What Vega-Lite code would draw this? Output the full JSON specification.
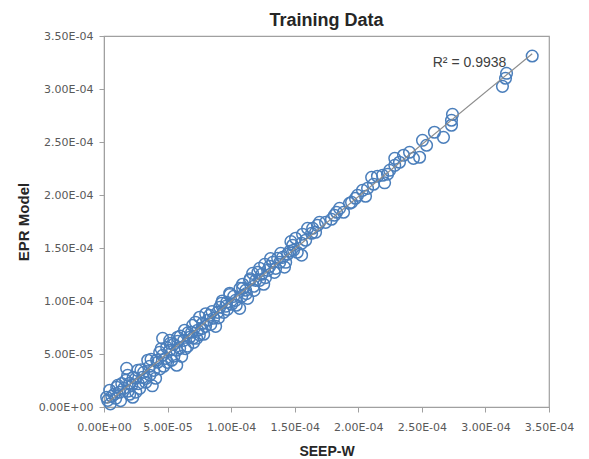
{
  "$schema": "https://vega.github.io/schema/vega-lite/v6.json",
  "autosize": "none",
  "width": 445,
  "height": 371,
  "padding": {"left": 104, "top": 36, "right": 40, "bottom": 52},
  "background": "white",
  "config": {
    "view": {"stroke": "#a0a0a0", "strokeWidth": 1.2},
    "axis": {
      "grid": false,
      "domainColor": "#a0a0a0",
      "tickColor": "#a0a0a0",
      "tickSize": 5,
      "labelFlush": false,
      "labelOverlap": false,
      "labelFont": "DejaVu Sans",
      "labelFontSize": 11,
      "labelColor": "#595959",
      "titleFont": "Liberation Sans",
      "titleFontWeight": "bold",
      "titleColor": "#262626"
    },
    "title": {"font": "Liberation Sans", "fontSize": 18, "fontWeight": "bold", "color": "#262626"}
  },
  "title": {"text": "Training Data", "anchor": "middle", "frame": "group", "offset": 0},
  "datasets": {
    "pts": [
      {"seep": 336.8e-6, "epr": 331.1e-6},
      {"seep": 316.6e-6, "epr": 314.8e-6},
      {"seep": 315.8e-6, "epr": 310.1e-6},
      {"seep": 313.4e-6, "epr": 302.5e-6},
      {"seep": 274.1e-6, "epr": 276.1e-6},
      {"seep": 273.3e-6, "epr": 270.5e-6},
      {"seep": 273.3e-6, "epr": 265.8e-6},
      {"seep": 267.0e-6, "epr": 254.4e-6},
      {"seep": 259.9e-6, "epr": 259.2e-6},
      {"seep": 250.5e-6, "epr": 251.6e-6},
      {"seep": 253.7e-6, "epr": 246.9e-6},
      {"seep": 248.2e-6, "epr": 235.6e-6},
      {"seep": 228.7e-6, "epr": 234.6e-6},
      {"seep": 228.7e-6, "epr": 228.0e-6},
      {"seep": 224.7e-6, "epr": 223.3e-6},
      {"seep": 219.1e-6, "epr": 218.6e-6},
      {"seep": 220.7e-6, "epr": 211.5e-6},
      {"seep": 210.5e-6, "epr": 216.7e-6},
      {"seep": 207.3e-6, "epr": 206.3e-6},
      {"seep": 203.3e-6, "epr": 204.4e-6},
      {"seep": 199.4e-6, "epr": 199.7e-6},
      {"seep": 194.7e-6, "epr": 193.1e-6},
      {"seep": 193.1e-6, "epr": 192.2e-6},
      {"seep": 182.9e-6, "epr": 183.7e-6},
      {"seep": 181.3e-6, "epr": 180.9e-6},
      {"seep": 178.9e-6, "epr": 177.1e-6},
      {"seep": 167.9e-6, "epr": 171.4e-6},
      {"seep": 164.1e-6, "epr": 168.6e-6},
      {"seep": 163.3e-6, "epr": 163.9e-6},
      {"seep": 156.2e-6, "epr": 163.0e-6},
      {"seep": 155.4e-6, "epr": 154.4e-6},
      {"seep": 148.4e-6, "epr": 152.6e-6},
      {"seep": 155.4e-6, "epr": 143.2e-6},
      {"seep": 146.0e-6, "epr": 146.9e-6},
      {"seep": 140.5e-6, "epr": 141.2e-6},
      {"seep": 138.2e-6, "epr": 136.5e-6},
      {"seep": 132.7e-6, "epr": 136.5e-6},
      {"seep": 126.4e-6, "epr": 134.6e-6},
      {"seep": 122.4e-6, "epr": 130.8e-6},
      {"seep": 116.9e-6, "epr": 126.1e-6},
      {"seep": 114.5e-6, "epr": 119.5e-6},
      {"seep": 122.4e-6, "epr": 119.5e-6},
      {"seep": 109.0e-6, "epr": 115.8e-6},
      {"seep": 109.0e-6, "epr": 112.0e-6},
      {"seep": 98.9e-6, "epr": 107.3e-6},
      {"seep": 96.5e-6, "epr": 98.8e-6},
      {"seep": 106.7e-6, "epr": 93.1e-6},
      {"seep": 91.0e-6, "epr": 94.1e-6},
      {"seep": 83.1e-6, "epr": 86.5e-6},
      {"seep": 75.2e-6, "epr": 84.7e-6},
      {"seep": 77.6e-6, "epr": 79.0e-6},
      {"seep": 69.7e-6, "epr": 77.1e-6},
      {"seep": 63.4e-6, "epr": 72.4e-6},
      {"seep": 67.4e-6, "epr": 65.8e-6},
      {"seep": 57.9e-6, "epr": 65.8e-6},
      {"seep": 51.7e-6, "epr": 62.9e-6},
      {"seep": 49.3e-6, "epr": 56.3e-6},
      {"seep": 57.2e-6, "epr": 53.5e-6},
      {"seep": 46.1e-6, "epr": 48.8e-6},
      {"seep": 57.2e-6, "epr": 39.4e-6},
      {"seep": 46.1e-6, "epr": 64.8e-6},
      {"seep": 2.9e-6, "epr": 6.3e-6},
      {"seep": 6.1e-6, "epr": 10.1e-6},
      {"seep": 4.5e-6, "epr": 15.8e-6},
      {"seep": 9.2e-6, "epr": 8.2e-6},
      {"seep": 12.3e-6, "epr": 13.9e-6},
      {"seep": 10.8e-6, "epr": 20.5e-6},
      {"seep": 15.5e-6, "epr": 17.6e-6},
      {"seep": 17.1e-6, "epr": 25.2e-6},
      {"seep": 20.2e-6, "epr": 12.0e-6},
      {"seep": 21.8e-6, "epr": 20.5e-6},
      {"seep": 18.6e-6, "epr": 29.9e-6},
      {"seep": 24.9e-6, "epr": 27.1e-6},
      {"seep": 28.1e-6, "epr": 17.6e-6},
      {"seep": 26.5e-6, "epr": 34.6e-6},
      {"seep": 31.2e-6, "epr": 32.7e-6},
      {"seep": 32.8e-6, "epr": 23.3e-6},
      {"seep": 35.9e-6, "epr": 38.4e-6},
      {"seep": 34.4e-6, "epr": 44.1e-6},
      {"seep": 39.1e-6, "epr": 34.6e-6},
      {"seep": 40.6e-6, "epr": 27.1e-6},
      {"seep": 42.2e-6, "epr": 42.2e-6},
      {"seep": 43.8e-6, "epr": 51.6e-6},
      {"seep": 46.9e-6, "epr": 38.4e-6},
      {"seep": 48.5e-6, "epr": 45.9e-6},
      {"seep": 51.6e-6, "epr": 53.5e-6},
      {"seep": 53.2e-6, "epr": 44.1e-6},
      {"seep": 54.8e-6, "epr": 59.2e-6},
      {"seep": 59.5e-6, "epr": 55.4e-6},
      {"seep": 61.1e-6, "epr": 47.8e-6},
      {"seep": 62.7e-6, "epr": 62.9e-6},
      {"seep": 65.8e-6, "epr": 57.3e-6},
      {"seep": 68.9e-6, "epr": 70.5e-6},
      {"seep": 70.5e-6, "epr": 61.0e-6},
      {"seep": 73.7e-6, "epr": 72.4e-6},
      {"seep": 78.4e-6, "epr": 68.6e-6},
      {"seep": 79.9e-6, "epr": 76.1e-6},
      {"seep": 81.5e-6, "epr": 81.8e-6},
      {"seep": 86.2e-6, "epr": 83.7e-6},
      {"seep": 87.8e-6, "epr": 76.1e-6},
      {"seep": 89.4e-6, "epr": 89.3e-6},
      {"seep": 94.1e-6, "epr": 89.3e-6},
      {"seep": 95.7e-6, "epr": 95.0e-6},
      {"seep": 100.4e-6, "epr": 96.9e-6},
      {"seep": 102.0e-6, "epr": 104.4e-6},
      {"seep": 103.5e-6, "epr": 100.6e-6},
      {"seep": 108.3e-6, "epr": 104.4e-6},
      {"seep": 111.4e-6, "epr": 110.1e-6},
      {"seep": 113.0e-6, "epr": 102.5e-6},
      {"seep": 117.7e-6, "epr": 113.9e-6},
      {"seep": 119.3e-6, "epr": 119.5e-6},
      {"seep": 124.0e-6, "epr": 125.2e-6},
      {"seep": 125.6e-6, "epr": 115.8e-6},
      {"seep": 128.7e-6, "epr": 128.9e-6},
      {"seep": 130.3e-6, "epr": 132.7e-6},
      {"seep": 135.0e-6, "epr": 130.8e-6},
      {"seep": 136.6e-6, "epr": 140.3e-6},
      {"seep": 142.9e-6, "epr": 136.5e-6},
      {"seep": 144.4e-6, "epr": 144.1e-6},
      {"seep": 149.1e-6, "epr": 147.9e-6},
      {"seep": 150.7e-6, "epr": 159.2e-6},
      {"seep": 158.6e-6, "epr": 157.3e-6},
      {"seep": 160.1e-6, "epr": 168.6e-6},
      {"seep": 166.4e-6, "epr": 164.8e-6},
      {"seep": 169.5e-6, "epr": 174.2e-6},
      {"seep": 174.3e-6, "epr": 174.2e-6},
      {"seep": 185.3e-6, "epr": 187.4e-6},
      {"seep": 188.4e-6, "epr": 183.7e-6},
      {"seep": 197.8e-6, "epr": 196.9e-6},
      {"seep": 205.7e-6, "epr": 198.8e-6},
      {"seep": 212.0e-6, "epr": 210.1e-6},
      {"seep": 215.1e-6, "epr": 217.7e-6},
      {"seep": 223.0e-6, "epr": 219.6e-6},
      {"seep": 232.4e-6, "epr": 230.9e-6},
      {"seep": 235.6e-6, "epr": 237.5e-6},
      {"seep": 240.3e-6, "epr": 240.3e-6},
      {"seep": 243.4e-6, "epr": 234.6e-6},
      {"seep": 2.1e-6, "epr": 9.2e-6},
      {"seep": 10.0e-6, "epr": 18.6e-6},
      {"seep": 22.6e-6, "epr": 9.2e-6},
      {"seep": 17.8e-6, "epr": 36.5e-6},
      {"seep": 30.4e-6, "epr": 28.0e-6},
      {"seep": 20.2e-6, "epr": 22.4e-6},
      {"seep": 41.4e-6, "epr": 44.1e-6},
      {"seep": 72.9e-6, "epr": 64.8e-6},
      {"seep": 92.5e-6, "epr": 97.8e-6},
      {"seep": 5e-6, "epr": 3e-6},
      {"seep": 8e-6, "epr": 12e-6},
      {"seep": 13e-6, "epr": 6e-6},
      {"seep": 14e-6, "epr": 22e-6},
      {"seep": 19e-6, "epr": 15e-6},
      {"seep": 23e-6, "epr": 28e-6},
      {"seep": 25e-6, "epr": 14e-6},
      {"seep": 27e-6, "epr": 22e-6},
      {"seep": 29e-6, "epr": 35e-6},
      {"seep": 33e-6, "epr": 27e-6},
      {"seep": 36e-6, "epr": 30e-6},
      {"seep": 37e-6, "epr": 45e-6},
      {"seep": 38e-6, "epr": 20e-6},
      {"seep": 44e-6, "epr": 36e-6},
      {"seep": 45e-6, "epr": 55e-6},
      {"seep": 50e-6, "epr": 42e-6},
      {"seep": 52e-6, "epr": 60e-6},
      {"seep": 55e-6, "epr": 48e-6},
      {"seep": 58e-6, "epr": 62e-6},
      {"seep": 60e-6, "epr": 67e-6},
      {"seep": 64e-6, "epr": 55e-6},
      {"seep": 66e-6, "epr": 70e-6},
      {"seep": 70e-6, "epr": 65e-6},
      {"seep": 72e-6, "epr": 80e-6},
      {"seep": 75e-6, "epr": 68e-6},
      {"seep": 77e-6, "epr": 74e-6},
      {"seep": 80e-6, "epr": 88e-6},
      {"seep": 84e-6, "epr": 78e-6},
      {"seep": 85e-6, "epr": 90e-6},
      {"seep": 90e-6, "epr": 84e-6},
      {"seep": 93e-6, "epr": 100e-6},
      {"seep": 97e-6, "epr": 92e-6},
      {"seep": 99e-6, "epr": 106e-6},
      {"seep": 104e-6, "epr": 96e-6},
      {"seep": 107e-6, "epr": 112e-6},
      {"seep": 112e-6, "epr": 107e-6},
      {"seep": 115e-6, "epr": 121e-6},
      {"seep": 118e-6, "epr": 110e-6},
      {"seep": 121e-6, "epr": 127e-6},
      {"seep": 127e-6, "epr": 122e-6},
      {"seep": 131e-6, "epr": 140e-6},
      {"seep": 134e-6, "epr": 127e-6},
      {"seep": 139e-6, "epr": 145e-6},
      {"seep": 142e-6, "epr": 132e-6},
      {"seep": 147e-6, "epr": 156e-6},
      {"seep": 152e-6, "epr": 146e-6}
    ],
    "ann": [{"seep": 287.5e-6, "epr": 324.2e-6, "label": "R² = 0.9938"}]
  },
  "layer": [
    {
      "data": {"name": "pts"},
      "mark": {"type": "point", "shape": "circle", "filled": false, "size": 135, "strokeWidth": 1.5, "color": "#4a7ebb", "opacity": 1},
      "encoding": {
        "x": {
          "field": "seep", "type": "quantitative",
          "scale": {"domain": [0, 0.00035], "nice": false},
          "axis": {
            "title": "SEEP-W", "titleFontSize": 14, "titlePadding": 12,
            "values": [0, 0.00005, 0.0001, 0.00015, 0.0002, 0.00025, 0.0003, 0.00035],
            "labelPadding": 9,
            "labelExpr": "datum.value == 0 ? '0.00E+00' : upper(replace(format(datum.value, '.2e'), 'e-', 'e-0'))"
          }
        },
        "y": {
          "field": "epr", "type": "quantitative",
          "scale": {"domain": [0, 0.00035], "nice": false},
          "axis": {
            "title": "EPR Model", "titleFontSize": 15, "titlePadding": 7,
            "values": [0, 0.00005, 0.0001, 0.00015, 0.0002, 0.00025, 0.0003, 0.00035],
            "labelPadding": 6,
            "labelExpr": "datum.value == 0 ? '0.00E+00' : upper(replace(format(datum.value, '.2e'), 'e-', 'e-0'))"
          }
        }
      }
    },
    {
      "data": {"name": "pts"},
      "transform": [{"regression": "epr", "on": "seep", "method": "linear"}],
      "mark": {"type": "line", "color": "#8c8c8c", "strokeWidth": 1.2},
      "encoding": {
        "x": {"field": "seep", "type": "quantitative"},
        "y": {"field": "epr", "type": "quantitative"}
      }
    },
    {
      "data": {"name": "ann"},
      "mark": {"type": "text", "font": "Liberation Sans", "fontSize": 14, "color": "#404040", "align": "center", "baseline": "middle"},
      "encoding": {
        "x": {"field": "seep", "type": "quantitative"},
        "y": {"field": "epr", "type": "quantitative"},
        "text": {"field": "label"}
      }
    }
  ]
}
